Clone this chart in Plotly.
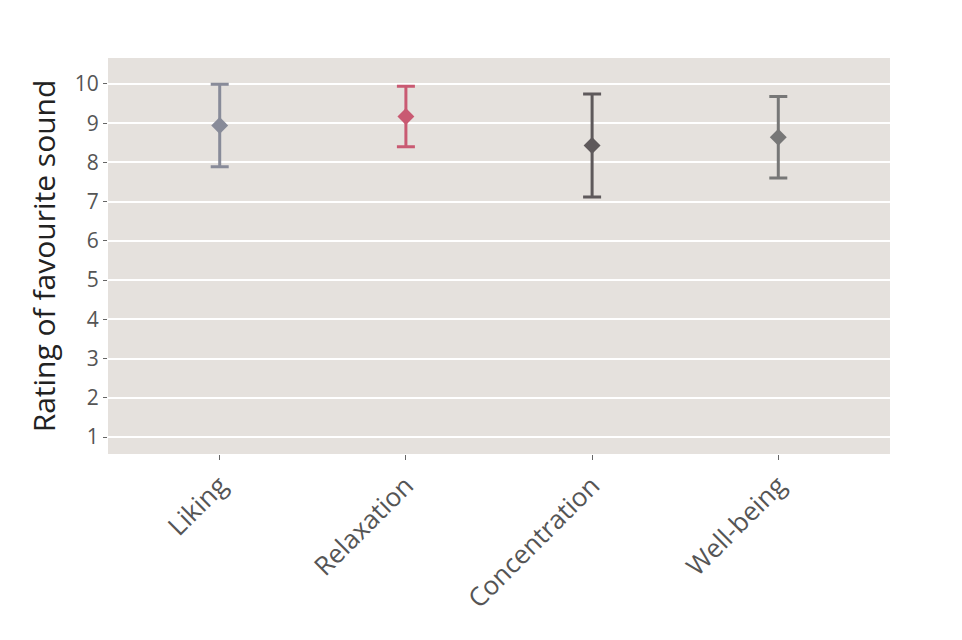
import plotly.graph_objects as go

categories = ["Liking", "Relaxation", "Concentration", "Well-being"]
means = [8.94, 9.17, 8.43, 8.64]
errors = [1.05, 0.77, 1.31, 1.04]
colors = ["#888b99", "#c95a72", "#5e595b", "#777777"]
y_ticks = [1, 2, 3, 4, 5, 6, 7, 8, 9, 10]

fig = go.Figure()
for cat, m, e, c in zip(categories, means, errors, colors):
    fig.add_trace(go.Scatter(
        x=[cat], y=[m], mode="markers",
        marker=dict(symbol="diamond", size=13, color=c),
        error_y=dict(type="data", array=[e], visible=True, color=c, thickness=3, width=9),
        showlegend=False,
    ))

fig.update_layout(
    width=962, height=640,
    margin=dict(l=100, r=80, t=50, b=194),
    paper_bgcolor="white",
    plot_bgcolor="#e5e1dd",
    font=dict(family="Open Sans", color="#555555"),
    xaxis=dict(
        categoryorder="array", categoryarray=categories,
        range=[-0.6, 3.6], showgrid=False, zeroline=False,
        tickangle=-45, tickfont=dict(size=26, color="#555555"),
        ticks="outside", ticklen=5, tickcolor="#666666", tickwidth=1,
    ),
    yaxis=dict(
        range=[0.57, 10.66], tickvals=y_ticks,
        showgrid=True, gridcolor="white", gridwidth=1.5, zeroline=False,
        tickfont=dict(size=21, color="#555555"),
        ticks="outside", ticklen=4, tickcolor="#666666", tickwidth=1,
        title=dict(text="Rating of favourite sound", font=dict(size=30, color="#222222"), standoff=10),
    ),
)

fig.write_html("out.html")
